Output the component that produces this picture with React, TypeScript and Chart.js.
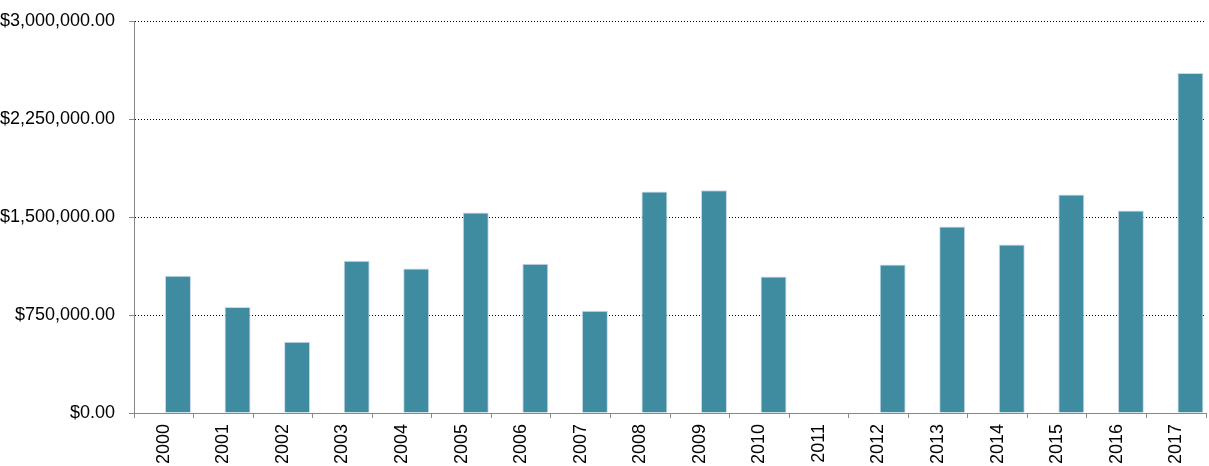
import React, { useEffect, useRef } from "react";
import { Chart, registerables } from "chart.js";

Chart.register(...registerables);

const years = ["2000","2001","2002","2003","2004","2005","2006","2007","2008","2009","2010","2011","2012","2013","2014","2015","2016","2017"];
const amounts = [1050000, 812000, 545000, 1166000, 1105000, 1535000, 1143000, 783000, 1696000, 1704000, 1044000, 0, 1136000, 1427000, 1289000, 1673000, 1550000, 2602000];
const emptySeries = years.map(() => null);
const yTicks = [0, 750000, 1500000, 2250000, 3000000];

const FONT = "'Liberation Sans', Arial, Helvetica, sans-serif";

export default function App() {
  const ref = useRef<HTMLCanvasElement | null>(null);
  useEffect(() => {
    if (!ref.current) return;
    const chart = new Chart(ref.current, {
      type: "bar",
      data: {
        labels: years,
        datasets: [
          {
            data: emptySeries,
            backgroundColor: "rgba(0,0,0,0)",
            barPercentage: 0.915,
            categoryPercentage: 0.954,
          },
          {
            data: amounts,
            backgroundColor: "#3F8CA0",
            borderColor: "rgba(200,215,235,0.95)",
            borderWidth: 1,
            barPercentage: 0.915,
            categoryPercentage: 0.954,
          },
        ],
      },
      options: {
        animation: false,
        responsive: true,
        maintainAspectRatio: false,
        layout: { padding: { top: 21, right: 3, left: 0, bottom: 0 } },
        plugins: { legend: { display: false }, tooltip: { enabled: false } },
        scales: {
          x: {
            offset: true,
            afterFit: (axis: any) => {
              axis.height = 53;
              axis.paddingLeft = 0;
              axis.paddingRight = 0;
            },
            grid: {
              offset: true,
              drawOnChartArea: false,
              drawTicks: true,
              tickLength: 5,
              tickColor: "#888",
              color: "#888",
            },
            border: { color: "#888", width: 1 },
            ticks: {
              minRotation: 90,
              maxRotation: 90,
              autoSkip: false,
              padding: 6,
              color: "#000",
              font: { family: FONT, size: 18 },
            },
          },
          y: {
            min: 0,
            max: 3000000,
            afterFit: (axis: any) => {
              axis.width = 134;
              axis.paddingTop = 0;
              axis.paddingBottom = 0;
            },
            afterBuildTicks: (axis: any) => {
              axis.ticks = yTicks.map((v) => ({ value: v }));
            },
            grid: {
              color: (ctx: any) => (ctx.tick && ctx.tick.value === 0 ? "rgba(0,0,0,0)" : "#000"),
              tickLength: 5,
              tickColor: "#888",
              tickBorderDash: [],
            },
            border: { color: "#888", width: 1, dash: [1, 2] },
            ticks: {
              padding: 14,
              color: "#000",
              font: { family: FONT, size: 18 },
              callback: (v: any) =>
                "$" + Number(v).toLocaleString("en-US", { minimumFractionDigits: 2, maximumFractionDigits: 2 }),
            },
          },
        },
      },
    });
    return () => chart.destroy();
  }, []);
  return (
    <div style={{ position: "fixed", left: 0, top: 0, width: 1209, height: 466 }}>
      <canvas ref={ref} />
    </div>
  );
}
